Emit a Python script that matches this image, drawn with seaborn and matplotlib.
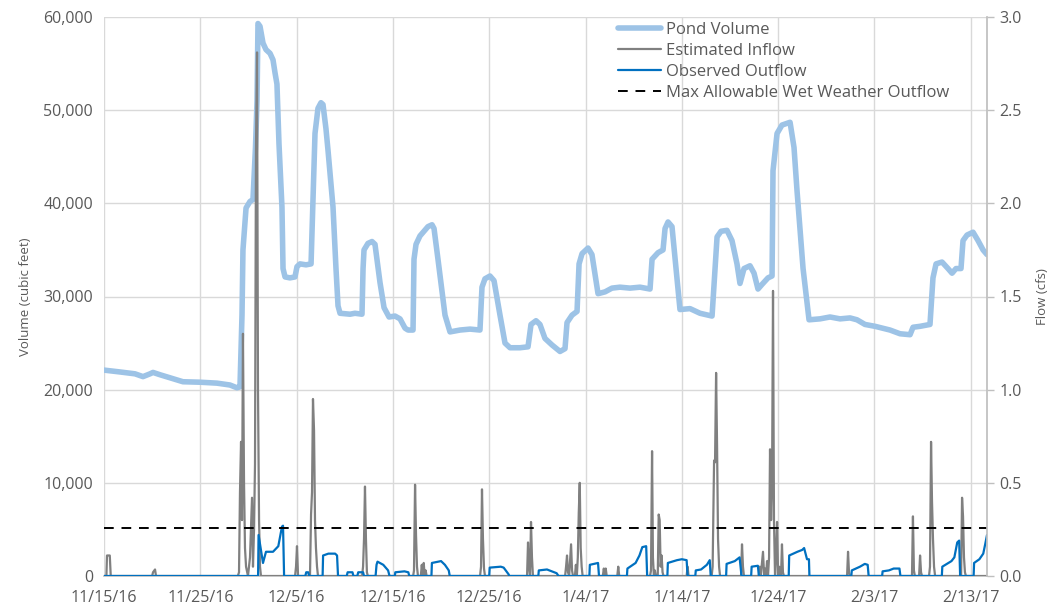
import numpy as np
import pandas as pd
import matplotlib
matplotlib.use("Agg")
import matplotlib.pyplot as plt
from matplotlib.ticker import FuncFormatter, MultipleLocator
from matplotlib.lines import Line2D
import seaborn as sns

# ---------------- data (days after 11/15/2016) ----------------
start_date = "2016-11-15"

pond_days = [0.0, 1.66, 3.22, 4.05, 4.78, 5.09, 5.82, 8.2, 9.97, 11.73, 13.08, 13.81, 14.12,
             14.33, 14.43, 14.75, 15.16, 15.47, 15.63, 15.73, 15.89, 15.99, 16.2, 16.51, 16.82,
             17.24, 17.55, 17.76, 17.96, 18.17, 18.48, 18.59, 18.8, 19.31, 19.83, 20.04, 20.35,
             20.98, 21.5, 21.7, 21.91, 22.22, 22.53, 22.74, 23.05, 23.26, 23.78, 24.09, 24.3,
             24.51, 25.55, 26.06, 26.79, 26.9, 27.0, 27.41, 27.83, 28.14, 28.66, 29.08, 29.6,
             30.22, 30.74, 31.26, 31.57, 32.09, 32.19, 32.4, 32.81, 33.64, 34.06, 34.27, 34.68,
             35.41, 35.93, 36.97, 38.01, 39.04, 39.25, 39.56, 40.08, 40.5, 41.12, 41.64, 42.16,
             43.2, 44.03, 44.34, 44.86, 45.27, 45.79, 46.52, 47.35, 47.87, 48.08, 48.6, 49.12,
             49.33, 49.64, 50.26, 50.67, 51.3, 52.03, 52.75, 53.58, 54.62, 55.66, 56.7, 56.91,
             57.53, 58.05, 58.26, 58.57, 58.98, 59.4, 59.81, 60.85, 61.89, 63.14, 63.66, 64.07,
             64.69, 65.21, 65.73, 66.04, 66.46, 67.08, 67.5, 67.91, 68.33, 68.95, 69.37, 69.47,
             69.89, 70.4, 71.24, 71.65, 71.96, 72.59, 73.21, 74.35, 75.39, 76.43, 77.47, 78.19,
             79.02, 80.06, 81.62, 82.66, 83.7, 84.01, 84.74, 85.77, 86.08, 86.4, 87.02, 87.64,
             88.06, 88.47, 88.99, 89.2, 89.62, 90.24, 90.76, 91.28, 91.69]
pond_volume = [22100, 21900, 21700, 21400, 21700, 21850, 21600, 20850, 20800, 20700, 20500, 20200, 20300,
               28000, 35000, 39500, 40200, 40400, 44000, 46000, 51000, 59300, 59000, 57200, 56500,
               56100, 55400, 54000, 52800, 46400, 39600, 33000, 32100, 32000, 32100, 33200, 33500,
               33400, 33500, 40300, 47500, 50200, 50800, 50600, 48000, 45700, 39600, 33000, 29000,
               28200, 28100, 28200, 28100, 33000, 35000, 35700, 35900, 35600, 31500, 28800, 27800,
               27900, 27600, 26600, 26400, 26400, 34000, 35600, 36500, 37500, 37700, 37300, 34000,
               28000, 26200, 26400, 26500, 26400, 31000, 31900, 32200, 31700, 28000, 25000, 24500,
               24500, 24600, 27000, 27400, 27000, 25500, 24800, 24100, 24400, 27200, 28000, 28400,
               33500, 34600, 35200, 34500, 30300, 30500, 30900, 31000, 30900, 31000, 30800, 34000,
               34700, 35000, 37300, 38000, 37500, 33000, 28600, 28700, 28200, 27900, 36400, 37000,
               37100, 36000, 33500, 31400, 33000, 33300, 32500, 30800, 31300, 32000, 32200, 43500,
               47500, 48400, 48700, 46000, 41400, 33000, 27500, 27600, 27800, 27600, 27700, 27500,
               27000, 26800, 26400, 26000, 25900, 26700, 26800, 27000, 32000, 33500, 33700, 33000,
               32500, 33000, 33000, 36000, 36600, 36900, 36000, 35000, 34500]

inflow_days = [0.0, 0.25, 0.31, 0.6, 0.7, 5.0, 5.09, 5.3, 5.4,
               13.9, 14.02, 14.12, 14.23, 14.33, 14.43, 14.54, 14.64, 14.75, 14.95, 15.16, 15.37,
               15.47, 15.58, 15.68, 15.78, 15.89, 15.99, 16.1, 16.2, 16.3,
               19.84, 19.94, 20.04, 20.15,
               21.39, 21.5, 21.6, 21.7, 21.81, 21.91, 22.01, 22.12, 22.22,
               26.8, 26.9, 27.0, 27.1, 27.2, 27.3, 27.4,
               32.1, 32.19, 32.3, 32.4, 32.5, 32.6, 32.9, 33.0, 33.1, 33.2, 33.3, 33.4, 33.5,
               39.05, 39.15, 39.25, 39.35, 39.46, 39.56,
               43.93, 44.03, 44.13, 44.24, 44.34, 44.44, 44.54,
               47.88, 47.98, 48.08, 48.18, 48.3, 48.5, 48.6, 48.7, 48.9, 49.0, 49.1, 49.2, 49.3,
               49.4, 49.5, 49.6, 49.7,
               51.8, 51.9, 52.0, 52.1, 52.2, 53.3, 53.4, 53.5,
               56.7, 56.8, 56.91, 57.0, 57.1, 57.2, 57.3, 57.5, 57.6, 57.7, 57.8, 57.9, 58.0, 58.1,
               60.5, 60.6, 60.7,
               63.1, 63.2, 63.35, 63.45, 63.56, 63.66, 63.76, 63.87, 63.97,
               66.15, 66.25, 66.35, 66.45,
               68.0, 68.1, 68.2, 68.43, 68.55, 68.64, 68.75, 68.85, 68.95, 69.06, 69.16, 69.27,
               69.37, 69.47, 69.57, 69.68, 69.78, 69.89, 70.0, 70.1, 70.2, 70.3, 70.4, 70.5, 70.6,
               77.16, 77.26, 77.36, 77.46,
               83.9, 84.0, 84.1, 84.2, 84.64, 84.74, 84.84, 84.94,
               85.67, 85.77, 85.88, 85.98, 86.08, 86.19, 86.3,
               89.0, 89.1, 89.2, 89.3, 89.4, 89.5, 91.69]
inflow_cfs = [0.0, 0.0, 0.11, 0.11, 0.0, 0.0, 0.02, 0.035, 0.0,
              0.0, 0.02, 0.45, 0.72, 0.3, 1.30, 0.5, 0.15, 0.05, 0.0, 0.1, 0.42,
              0.05, 0.25, 0.6, 2.29, 2.81, 1.0, 0.3, 0.05, 0.0,
              0.0, 0.05, 0.16, 0.0,
              0.0, 0.33, 0.45, 0.95, 0.78, 0.3, 0.15, 0.05, 0.0,
              0.0, 0.05, 0.2, 0.48, 0.2, 0.02, 0.0,
              0.0, 0.03, 0.49, 0.22, 0.05, 0.0, 0.0, 0.06, 0.0, 0.07, 0.0, 0.03, 0.0,
              0.0, 0.05, 0.465, 0.2, 0.04, 0.0,
              0.0, 0.18, 0.05, 0.0, 0.29, 0.1, 0.0,
              0.0, 0.05, 0.11, 0.02, 0.0, 0.17, 0.03, 0.0, 0.0, 0.06, 0.0, 0.1, 0.34,
              0.5, 0.15, 0.05, 0.0,
              0.0, 0.04, 0.0, 0.04, 0.0, 0.0, 0.05, 0.0,
              0.0, 0.03, 0.67, 0.1, 0.0, 0.03, 0.0, 0.0, 0.33, 0.3, 0.05, 0.11, 0.02, 0.0,
              0.0, 0.05, 0.0,
              0.0, 0.05, 0.62, 0.61, 1.09, 0.7, 0.2, 0.05, 0.0,
              0.0, 0.17, 0.05, 0.0,
              0.0, 0.05, 0.0, 0.13, 0.0, 0.04, 0.0, 0.08, 0.0, 0.1, 0.68, 0.3,
              0.5, 1.53, 0.3, 0.0, 0.1, 0.29, 0.0, 0.05, 0.0, 0.0, 0.17, 0.02, 0.0,
              0.0, 0.13, 0.02, 0.0,
              0.0, 0.32, 0.03, 0.0, 0.0, 0.11, 0.02, 0.0,
              0.0, 0.05, 0.72, 0.4, 0.2, 0.05, 0.0,
              0.0, 0.42, 0.32, 0.1, 0.02, 0.0, 0.0]

outflow_days = [0.0, 16.0, 16.05, 16.51, 16.82, 17.55, 18.1, 18.48, 18.59, 18.7,
                20.9, 21.0, 21.2, 21.3,
                22.7, 22.75, 23.3, 24.0, 24.2, 24.3,
                25.2, 25.3, 25.8, 25.9, 26.3, 26.4, 26.9, 27.0,
                28.2, 28.3, 28.4, 29.0, 29.5, 29.65,
                30.2, 30.25, 31.2, 31.6, 31.7,
                34.0, 34.05, 35.0, 35.4, 35.8, 35.9,
                40.0, 40.05, 41.2, 41.5, 42.0, 42.1,
                45.1, 45.15, 46.0, 47.0, 47.2,
                50.4, 50.45, 51.3, 51.4,
                54.3, 54.35, 55.2, 55.6, 55.9, 56.3, 56.4,
                58.5, 58.55, 59.5, 60.0, 60.5, 60.6,
                61.4, 61.45, 62.0, 62.6, 62.9, 63.0,
                64.6, 64.65, 65.5, 66.0, 66.2,
                67.2, 67.25, 67.9, 68.0,
                71.1, 71.15, 72.0, 72.5, 72.7, 73.0, 73.2, 73.25,
                77.6, 77.65, 78.5, 79.0, 79.3, 79.4,
                80.8, 80.85, 81.5, 82.0, 82.6, 82.7,
                87.0, 87.05, 88.0, 88.3, 88.6, 88.8, 88.9,
                90.3, 90.35, 90.9, 91.3, 91.5, 91.69]
outflow_cfs = [0.0, 0.0, 0.22, 0.07, 0.13, 0.13, 0.16, 0.265, 0.27, 0.0,
               0.0, 0.02, 0.02, 0.0,
               0.0, 0.11, 0.12, 0.12, 0.11, 0.0,
               0.0, 0.02, 0.02, 0.0, 0.0, 0.02, 0.02, 0.0,
               0.0, 0.06, 0.077, 0.06, 0.03, 0.0,
               0.0, 0.02, 0.025, 0.02, 0.0,
               0.0, 0.07, 0.08, 0.06, 0.03, 0.0,
               0.0, 0.045, 0.05, 0.045, 0.01, 0.0,
               0.0, 0.03, 0.035, 0.015, 0.0,
               0.0, 0.06, 0.07, 0.0,
               0.0, 0.04, 0.07, 0.11, 0.155, 0.16, 0.0,
               0.0, 0.07, 0.085, 0.09, 0.085, 0.0,
               0.0, 0.03, 0.035, 0.06, 0.085, 0.0,
               0.0, 0.065, 0.08, 0.1, 0.0,
               0.0, 0.05, 0.055, 0.0,
               0.0, 0.11, 0.13, 0.14, 0.15, 0.09, 0.09, 0.0,
               0.0, 0.03, 0.05, 0.065, 0.06, 0.0,
               0.0, 0.025, 0.03, 0.04, 0.04, 0.0,
               0.0, 0.05, 0.08, 0.1, 0.18, 0.19, 0.0,
               0.0, 0.07, 0.09, 0.12, 0.17, 0.22]

max_allowable_cfs = 0.26
x_end_days = 91.69

tick_labels = ["11/15/16", "11/25/16", "12/5/16", "12/15/16", "12/25/16", "1/4/17",
               "1/14/17", "1/24/17", "2/3/17", "2/13/17"]

# ---------------- build frames ----------------
base = pd.Timestamp(start_date)
def to_dates(d):
    return base + pd.to_timedelta(np.asarray(d, dtype=float), unit="D")

pond_df = pd.DataFrame({"date": to_dates(pond_days), "volume": pond_volume})
in_df = pd.DataFrame({"date": to_dates(inflow_days), "flow": inflow_cfs})
out_df = pd.DataFrame({"date": to_dates(outflow_days), "flow": outflow_cfs})

# ---------------- plot ----------------
sns.set_theme(style="white")
plt.rcParams["font.family"] = ["Open Sans", "DejaVu Sans"]

TXT = "#595959"
GRID = "#D9D9D9"
C_POND = "#9DC3E6"
C_IN = "#808080"
C_OUT = "#0070C0"

fig = plt.figure(figsize=(10.53, 6.08), dpi=100)
ax1 = fig.add_axes([104 / 1053, 1 - 576 / 608, (987 - 104) / 1053, (576 - 17) / 608])
ax2 = ax1.twinx()

sns.lineplot(data=pond_df, x="date", y="volume", ax=ax1, color=C_POND, lw=4.0,
             estimator=None, sort=False, legend=False)
sns.lineplot(data=in_df, x="date", y="flow", ax=ax2, color=C_IN, lw=1.6,
             estimator=None, sort=False, legend=False)
sns.lineplot(data=out_df, x="date", y="flow", ax=ax2, color=C_OUT, lw=1.6,
             estimator=None, sort=False, legend=False)
ax2.axhline(max_allowable_cfs, color="black", lw=1.4, ls=(0, (5, 4)))

ax1.set_ylim(0, 60000)
ax2.set_ylim(0, 3.0)
ax1.set_xlim(base, base + pd.Timedelta(days=x_end_days))

tick_dates = [base + pd.Timedelta(days=10 * i) for i in range(len(tick_labels))]
ax1.set_xticks(tick_dates)
ax1.set_xticklabels(tick_labels)

ax1.yaxis.set_major_locator(MultipleLocator(10000))
ax1.yaxis.set_major_formatter(FuncFormatter(lambda v, p: f"{v:,.0f}"))
ax2.yaxis.set_major_locator(MultipleLocator(0.5))
ax2.yaxis.set_major_formatter(FuncFormatter(lambda v, p: f"{v:.1f}"))

ax1.grid(True, color=GRID, lw=1.0)
ax1.set_axisbelow(True)
ax2.grid(False)

for ax in (ax1, ax2):
    for s in ax.spines.values():
        s.set_visible(False)
ax1.spines["bottom"].set_visible(True)
ax1.spines["bottom"].set_color("#BFBFBF")
ax2.spines["right"].set_visible(True)
ax2.spines["right"].set_color("#BFBFBF")

ax1.tick_params(axis="x", length=0, pad=10, labelsize=11.5, labelcolor=TXT)
ax1.tick_params(axis="y", length=0, pad=8, labelsize=11.5, labelcolor=TXT)
ax2.tick_params(axis="y", length=5, width=1, color="#BFBFBF", pad=4, labelsize=11.5,
                labelcolor=TXT, direction="out")

ax1.set_xlabel("")
ax1.set_ylabel("Volume (cubic feet)", color=TXT, fontsize=9.5, labelpad=8)
ax2.set_ylabel("Flow (cfs)", color=TXT, fontsize=9.5, labelpad=10)

handles = [Line2D([], [], color=C_POND, lw=4.0),
           Line2D([], [], color=C_IN, lw=1.6),
           Line2D([], [], color=C_OUT, lw=1.6),
           Line2D([], [], color="black", lw=1.4, ls=(0, (5, 4)))]
labels = ["Pond Volume", "Estimated Inflow", "Observed Outflow",
          "Max Allowable Wet Weather Outflow"]
fig.legend(handles, labels, loc="upper left", bbox_to_anchor=(618 / 1053, 1 - 22 / 608),
           frameon=False, fontsize=12, labelcolor=TXT, handlelength=2.6,
           handletextpad=0.25, labelspacing=0.3, borderaxespad=0, borderpad=0)

fig.savefig("out.png", dpi=100)
